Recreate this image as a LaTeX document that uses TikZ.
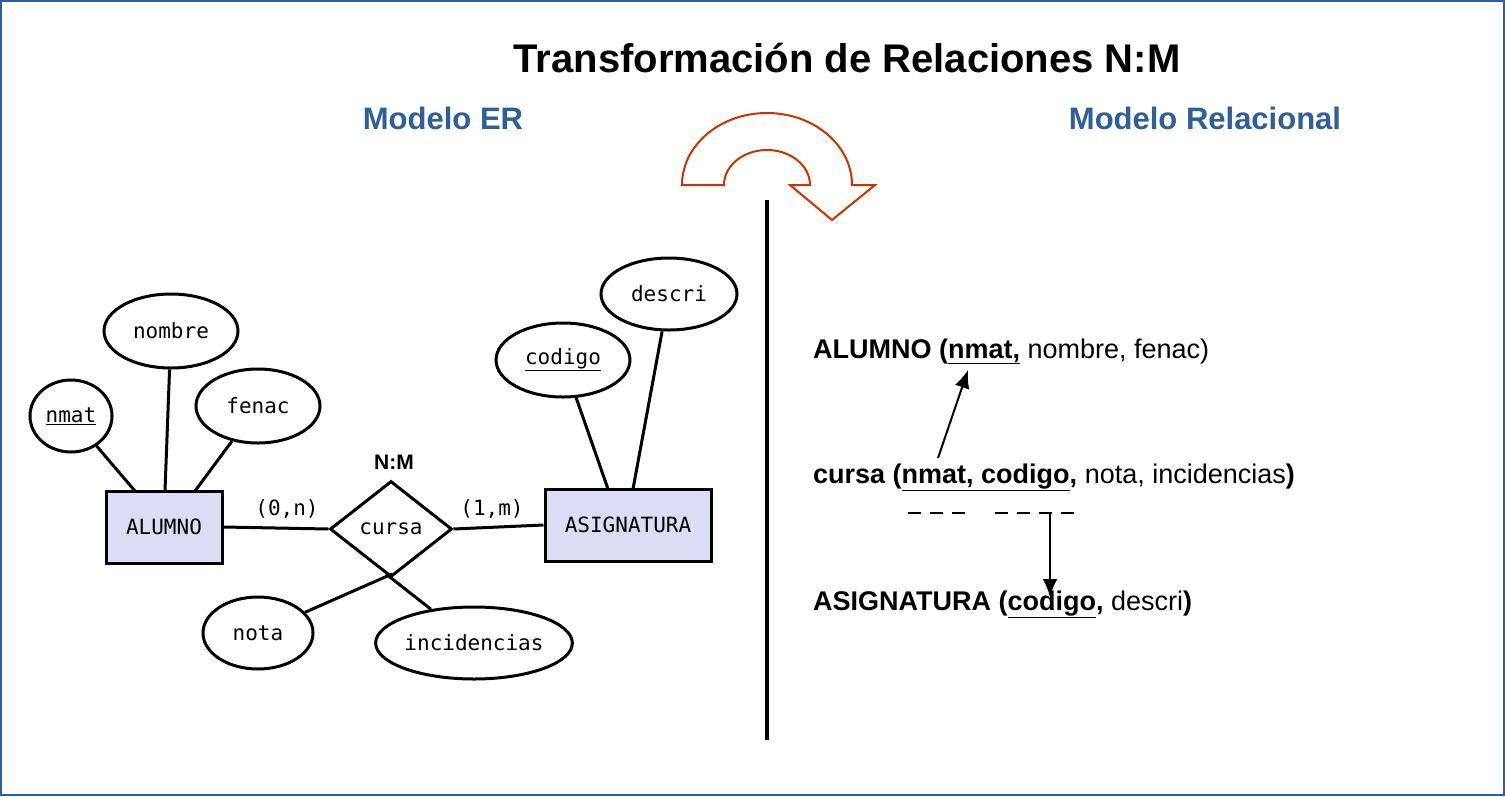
\documentclass[tikz,border=0pt]{standalone}
\usepackage{fontspec}
\setmainfont{Liberation Sans}
\newfontfamily\ermono{DejaVu Sans Mono}
\usetikzlibrary{shapes.geometric,arrows.meta}
\definecolor{hdblue}{HTML}{2F5F98}
\definecolor{entfill}{HTML}{DCDCF4}
\definecolor{arrred}{HTML}{CC3300}
\begin{document}
\begin{tikzpicture}[x=1pt,y=-1pt,
  ent/.style={draw,line width=3pt,fill=entfill,minimum width=116pt,minimum height=72pt,font=\ermono\fontsize{21}{23}\selectfont},
  attr/.style={draw,ellipse,line width=3pt,fill=white,font=\ermono\fontsize{21}{23}\selectfont,inner sep=0pt},
  ln/.style={line width=3pt},
  rel/.style={anchor=base west,font=\fontsize{27}{31}\selectfont,inner sep=0pt},
  hd/.style={font=\bfseries\fontsize{31}{35}\selectfont,text=hdblue}]
\useasboundingbox (0,0) rectangle (1505,796);
\draw[hdblue,line width=2pt] (1,1) rectangle (1504,795);
\node[font=\bfseries\fontsize{40}{44}\selectfont] (title) at (847,58) {Transformación de Relaciones N:M};
\node[hd] (er) at (443,118) {Modelo ER};
\node[hd] (mr) at (1205,118) {Modelo Relacional};
% curved arrow
\draw[arrred,line width=2pt,fill=white]
  (682,185) arc[start angle=180,end angle=360,x radius=85,y radius=72] -- (875,185) -- (832,220) -- (790,185) -- (810,185)
  arc[start angle=360,end angle=180,x radius=43,y radius=35] -- cycle;
\coordinate (vt) at (767,200); \coordinate (vb) at (767,740);
\draw[line width=4pt] (vt) -- (vb);
% ER
\node[ent] (alumno) at (164,527) {ALUMNO};
\node[ent,minimum width=166pt] (asig) at (628,525) {ASIGNATURA};
\node[draw,diamond,line width=3pt,fill=white,minimum width=122pt,minimum height=96pt,inner sep=0pt,font=\ermono\fontsize{21}{23}\selectfont] (cursa) at (391,529) {cursa};
\node[attr,minimum width=82pt,minimum height=72pt] (nmat) at (71,416) {\underline{nmat}};
\node[attr,minimum width=134pt,minimum height=74pt] (nombre) at (171,331) {nombre};
\node[attr,minimum width=124pt,minimum height=74pt] (fenac) at (258,406) {fenac};
\node[attr,minimum width=134pt,minimum height=74pt] (codigo) at (563,360) {\underline{codigo}};
\node[attr,minimum width=136pt,minimum height=72pt] (descri) at (669,294) {descri};
\node[attr,minimum width=110pt,minimum height=72pt] (nota) at (258,633) {nota};
\node[attr,minimum width=194pt,minimum height=72pt] (inci) at (474,643) {incidencias};
\draw[ln] (nmat) -- (135,491);
\draw[ln] (nombre) -- (165,491);
\draw[ln] (fenac) -- (195,491);
\draw[ln] (alumno.east) -- (cursa.west);
\draw[ln] (cursa.east) -- (asig.west);
\draw[ln] (codigo) -- (608,489);
\draw[ln] (descri) -- (633,489);
\draw[ln] (nota) -- (392,574);
\draw[ln] (386,574) -- (inci);
\node[font=\ermono\fontsize{21}{23}\selectfont] (l1) at (287,509) {(0,n)};
\node[font=\ermono\fontsize{21}{23}\selectfont] (l2) at (492,509) {(1,m)};
\node[font=\bfseries\fontsize{21}{23}\selectfont] (nm) at (394,462) {N:M};
% relational
\node[rel] (r1) at (813,358) {\textbf{ALUMNO (\underline{nmat,}} nombre, fenac)};
\node[rel] (r2) at (813,483) {\textbf{cursa (\underline{nmat, codigo},} nota, incidencias\textbf{)}};
\node[rel] (r3) at (813,610) {\textbf{ASIGNATURA (\underline{codigo},} descri\textbf{)}};
\coordinate (a1s) at (938,458); \coordinate (a1e) at (968,370);
\draw[line width=2pt,-{Latex[length=18pt,width=15pt]}] (a1s) -- (a1e);
\coordinate (d1) at (908,513); \coordinate (d2) at (968,513);
\coordinate (d3) at (995,513); \coordinate (d4) at (1082,513);
\draw[line width=2.5pt,dash pattern=on 13pt off 9pt] (d1) -- (d2);
\draw[line width=2.5pt,dash pattern=on 13pt off 9pt] (d3) -- (d4);
\coordinate (a2s) at (1050,513); \coordinate (a2e) at (1050,597);
\draw[line width=2.5pt,-{Latex[length=18pt,width=15pt]}] (a2s) -- (a2e);
\end{tikzpicture}
\end{document}
